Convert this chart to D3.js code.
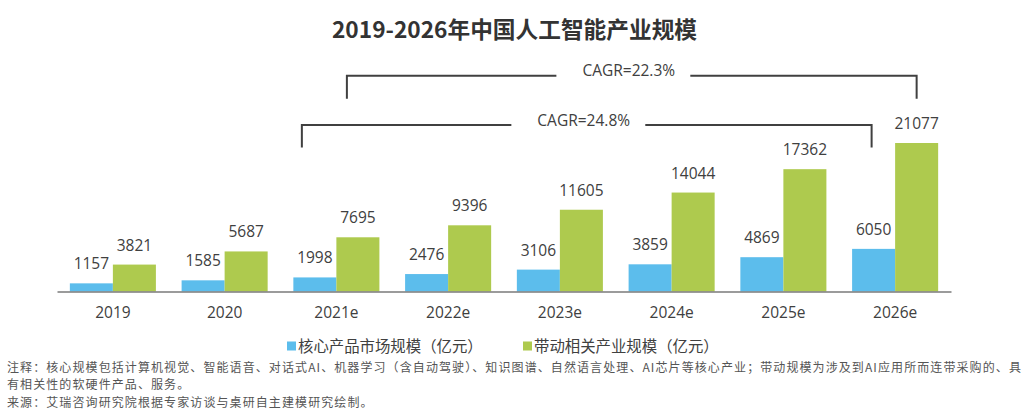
<!DOCTYPE html>
<html><head><meta charset="utf-8">
<script src="https://cdn.jsdelivr.net/npm/d3@7"></script>
<style>
html,body{margin:0;padding:0;background:#fff;}
svg{display:block;}
</style></head>
<body>
<svg id="c" width="1027" height="410"></svg>
<script>
const categories = ["2019","2020","2021e","2022e","2023e","2024e","2025e","2026e"];
const coreValues = [1157,1585,1998,2476,3106,3859,4869,6050];
const drivenValues = [3821,5687,7695,9396,11605,14044,17362,21077];
const seriesNames = ["核心产品市场规模（亿元）","带动相关产业规模（亿元）"];
const seriesColors = ["#5cbdec","#aeca4e"];
const cagrLabels = ["CAGR=22.3%","CAGR=24.8%"];
const titleText = "2019-2026年中国人工智能产业规模";
const noteLines = [
  "注释：核心规模包括计算机视觉、智能语音、对话式AI、机器学习（含自动驾驶）、知识图谱、自然语言处理、AI芯片等核心产业；带动规模为涉及到AI应用所而连带采购的、具",
  "有相关性的软硬件产品、服务。",
  "来源：艾瑞咨询研究院根据专家访谈与桌研自主建模研究绘制。"
];

const svg = d3.select("#c");
const cjk = "'Noto Sans CJK SC','Microsoft YaHei',sans-serif";
const num = "'Open Sans','Noto Sans',sans-serif";
const txt = "#404040";

const baseY = 291.5;
const x = d3.scaleBand().domain(categories).range([57, 951]).paddingInner(0.23).paddingOuter(0.115);
const x1 = d3.scaleBand().domain([0,1]).range([0, x.bandwidth()]);
const y = d3.scaleLinear().domain([0, d3.max(drivenValues)]).range([baseY, 143]);

// title
svg.append("text").attr("x", 514.5).attr("y", 37.5).attr("text-anchor","middle")
  .attr("font-family", cjk).attr("font-weight","bold").attr("font-size", 22.7)
  .attr("fill","#333").text(titleText);

// bars
const series = [coreValues, drivenValues];
series.forEach((vals, si) => {
  const g = svg.append("g");
  g.selectAll("rect").data(vals).join("rect")
    .attr("x", (d,i) => x(categories[i]) + x1(si))
    .attr("width", x1.bandwidth())
    .attr("y", d => y(d))
    .attr("height", d => baseY - y(d))
    .attr("fill", seriesColors[si]);
  g.selectAll("text").data(vals).join("text")
    .attr("x", (d,i) => x(categories[i]) + x1(si) + x1.bandwidth()/2)
    .attr("y", d => y(d) - 14)
    .attr("text-anchor","middle")
    .attr("font-family", num).attr("font-size", 15.5).attr("fill", txt)
    .text(d => d);
});

// axis
const ax = svg.append("g").attr("transform", `translate(0,${baseY})`)
  .call(d3.axisBottom(x).tickSize(0).tickSizeOuter(0).tickPadding(15));
ax.select(".domain").attr("stroke","#7a7a7a").attr("stroke-width",1.5);
ax.selectAll("text").attr("font-family", num).attr("font-size", 15.5).attr("fill", txt);

// CAGR brackets
const brackets = [
  {label: cagrLabels[0], from: categories[2], to: categories[7], s: 1, y: 75.7, drop: 23, offL: -11, offR: 0},
  {label: cagrLabels[1], from: categories[2], to: categories[7], s: 0, y: 125, drop: 22.5, offL: -13, offR: -2}
];
brackets.forEach(b => {
  const x0 = x(b.from) + x1(b.s) + x1.bandwidth()/2 + b.offL;
  const x2 = x(b.to) + x1(b.s) + x1.bandwidth()/2 + b.offR;
  const mid = (x0 + x2)/2 - 3;
  const t = svg.append("text").attr("x", mid).attr("y", b.y + 0.5).attr("text-anchor","middle")
    .attr("font-family", num).attr("font-size", 15.5).attr("fill", txt).text(b.label);
  const bb = t.node().getBBox();
  const gl = bb.x - 26, gr = bb.x + bb.width + 15;
  svg.append("path")
    .attr("d", `M${x0},${b.y + b.drop}V${b.y}H${gl}M${gr},${b.y}H${x2}V${b.y + b.drop}`)
    .attr("fill","none").attr("stroke","#404040").attr("stroke-width",2);
});

// legend
const legX = [287, 523];
seriesNames.forEach((n, i) => {
  svg.append("rect").attr("x", legX[i]).attr("y", 341.5).attr("width", 9).attr("height", 9).attr("fill", seriesColors[i]);
  svg.append("text").attr("x", legX[i] + 11).attr("y", 352)
    .attr("font-family", cjk).attr("font-size", 15.4).attr("fill", txt).text(n);
});

// notes
const notes = noteLines.map((l, i) =>
  svg.append("text").attr("x", 7).attr("y", 371.5 + i*17.6)
    .attr("font-family", cjk).attr("font-size", 12).attr("fill", "#555").text(l));
const w0 = notes[0].node().getComputedTextLength();
const n0 = noteLines[0].length;
const ls = Math.max(0, (1015 - w0) / n0);
notes.forEach(t => t.attr("letter-spacing", ls));
</script>
</body></html>
